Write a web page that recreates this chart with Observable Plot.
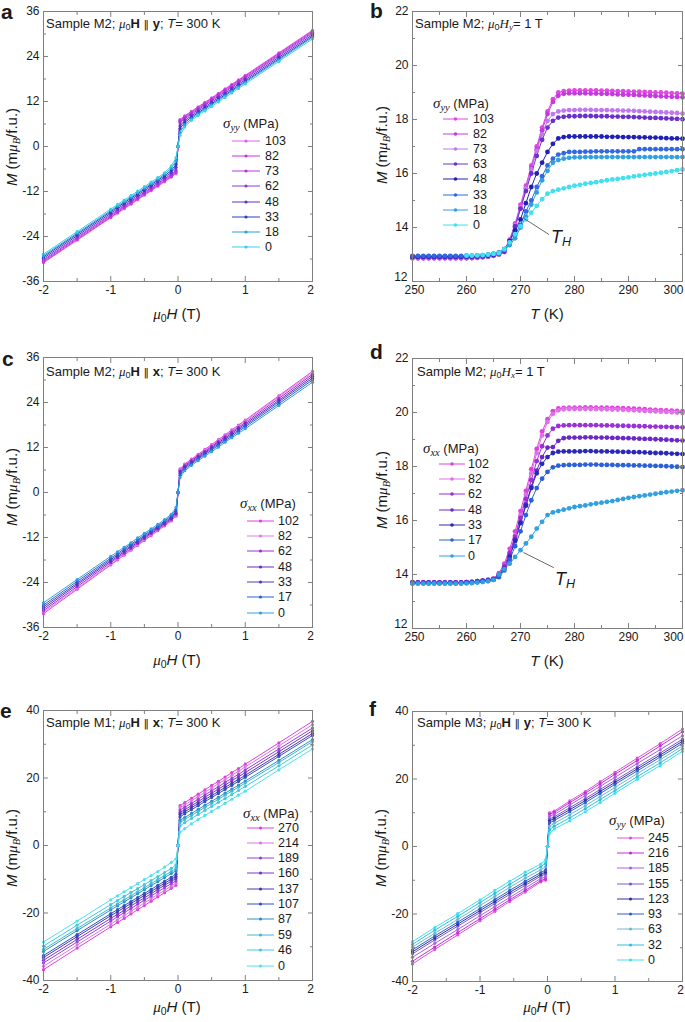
<!DOCTYPE html>
<html><head><meta charset="utf-8">
<script src="https://cdn.jsdelivr.net/npm/d3@7"></script>
<script src="https://cdn.jsdelivr.net/npm/@observablehq/plot@0.6"></script>
<style>
body{margin:0;background:#fff;}
#fig{position:relative;width:685px;height:1022px;overflow:hidden;background:#fff;font-family:"Liberation Sans",Arial,sans-serif;color:#1a1a1a;}
.t{position:absolute;white-space:nowrap;line-height:16px;font-size:12px;}
.m{font-family:"Liberation Serif","DejaVu Serif",serif;font-style:italic;}
.par{font-family:"DejaVu Sans",sans-serif;font-weight:normal;font-size:11px;}
sub{font-size:70%;vertical-align:-0.25em;line-height:0;}
.lt{position:absolute;font-weight:bold;font-size:21px;line-height:20px;}
</style>
</head><body><div id="fig"></div>
<script>
// ---------- field-sweep grids ----------
const Hgrid = [-2,-1.5,-1,-0.9,-0.8,-0.7,-0.6,-0.5,-0.4,-0.3,-0.2,-0.1,-0.03,0,0.03,0.1,0.2,0.3,0.4,0.5,0.6,0.7,0.8,0.9,1,1.5,2];
const HgridF = [-2,-1.67,-1.33,-1,-0.78,-0.56,-0.33,-0.1,-0.03,0,0.03,0.1,0.33,0.56,0.78,1,1.33,1.67,2];
const Tgrid = [250,251,252,253,254,255,256,257,258,259,260,261,262,263,264,265,266,267,268,269,270,271,272,273,274,275,276,277,278,279,280,281,282,283,284,285,286,287,288,289,290,291,292,293,294,295,296,297,298,299,300];

// ---------- panel a ----------
const aStress = ["103","82","73","62","48","33","18","0"];
const aColors = ["#e060e8","#d030e0","#b838e0","#9038d8","#6030c8","#2a40c8","#28a0d8","#38d0e8"];
const aM103 = [-31.0,-25.0,-19.0,-17.8,-16.6,-15.4,-14.2,-13.0,-11.8,-10.6,-9.4,-8.2,-7.2,0,7.2,8.2,9.4,10.6,11.8,13.0,14.2,15.4,16.6,17.8,19.0,25.0,31.0];
const aM82 = [-30.8,-24.8,-18.8,-17.6,-16.4,-15.2,-14.0,-12.8,-11.6,-10.4,-9.2,-8.0,-7.0,0,7.0,8.0,9.2,10.4,11.6,12.8,14.0,15.2,16.4,17.6,18.8,24.8,30.8];
const aM73 = [-30.5,-24.5,-18.5,-17.3,-16.1,-14.9,-13.7,-12.5,-11.3,-10.1,-8.9,-7.7,-6.7,0,6.7,7.7,8.9,10.1,11.3,12.5,13.7,14.9,16.1,17.3,18.5,24.5,30.5];
const aM62 = [-30.2,-24.2,-18.2,-17.0,-15.8,-14.6,-13.4,-12.2,-11.0,-9.8,-8.6,-7.4,-6.3,0,6.3,7.4,8.6,9.8,11.0,12.2,13.4,14.6,15.8,17.0,18.2,24.2,30.2];
const aM48 = [-29.8,-23.8,-17.8,-16.6,-15.4,-14.2,-13.0,-11.8,-10.6,-9.4,-8.2,-6.9,-5.5,0,5.5,6.9,8.2,9.4,10.6,11.8,13.0,14.2,15.4,16.6,17.8,23.8,29.8];
const aM33 = [-29.4,-23.4,-17.4,-16.2,-15.0,-13.8,-12.6,-11.4,-10.2,-9.0,-7.8,-6.4,-4.8,0,4.8,6.4,7.8,9.0,10.2,11.4,12.6,13.8,15.0,16.2,17.4,23.4,29.4];
const aM18 = [-29.1,-23.1,-17.1,-15.9,-14.7,-13.5,-12.3,-11.1,-9.9,-8.7,-7.4,-5.8,-3.8,0,3.8,5.8,7.4,8.7,9.9,11.1,12.3,13.5,14.7,15.9,17.1,23.1,29.1];
const aM0 = [-28.7,-22.7,-16.7,-15.5,-14.3,-13.1,-11.9,-10.7,-9.5,-8.3,-7.0,-5.2,-3.0,0,3.0,5.2,7.0,8.3,9.5,10.7,11.9,13.1,14.3,15.5,16.7,22.7,28.7];

// ---------- panel b ----------
const bStress = ["103","82","73","63","48","33","18","0"];
const bColors = ["#e048e0","#c438e0","#c078ec","#6a30cc","#2020b8","#3068e0","#30a0e0","#40e0f0"];
const bM103 = [12.87,12.87,12.87,12.87,12.87,12.87,12.87,12.87,12.87,12.87,12.87,12.87,12.88,12.9,12.92,12.95,13.0,13.15,13.55,14.15,14.85,15.55,16.3,17.0,17.7,18.3,18.75,19.0,19.05,19.07,19.08,19.08,19.08,19.08,19.08,19.07,19.07,19.06,19.05,19.05,19.04,19.03,19.03,19.02,19.01,19.0,19.0,18.99,18.98,18.97,18.96];
const bM82 = [12.86,12.86,12.86,12.86,12.86,12.86,12.86,12.86,12.86,12.86,12.86,12.87,12.88,12.9,12.92,12.95,13.0,13.1,13.45,14.0,14.7,15.45,16.2,16.9,17.6,18.2,18.65,18.88,18.95,18.97,18.97,18.97,18.97,18.96,18.96,18.95,18.95,18.94,18.93,18.92,18.92,18.91,18.9,18.89,18.88,18.87,18.86,18.85,18.84,18.83,18.82];
const bM73 = [12.88,12.88,12.88,12.88,12.88,12.88,12.88,12.88,12.88,12.88,12.88,12.88,12.89,12.9,12.93,12.96,13.0,13.1,13.5,14.1,14.75,15.45,16.15,16.85,17.45,17.95,18.2,18.3,18.33,18.35,18.35,18.36,18.36,18.36,18.35,18.35,18.35,18.34,18.34,18.33,18.33,18.32,18.31,18.3,18.29,18.28,18.27,18.26,18.25,18.24,18.22];
const bM63 = [12.9,12.9,12.9,12.9,12.9,12.9,12.9,12.9,12.9,12.9,12.9,12.9,12.91,12.92,12.94,12.97,13.02,13.1,13.5,14.05,14.7,15.35,16.0,16.65,17.25,17.7,17.95,18.07,18.1,18.12,18.12,18.13,18.13,18.13,18.12,18.12,18.12,18.11,18.11,18.1,18.1,18.09,18.08,18.07,18.06,18.06,18.05,18.04,18.03,18.02,18.01];
const bM48 = [12.93,12.93,12.93,12.93,12.93,12.93,12.93,12.93,12.93,12.93,12.93,12.93,12.94,12.95,12.97,13.0,13.05,13.2,13.5,13.9,14.3,14.9,15.5,16.0,16.4,16.8,17.1,17.3,17.35,17.37,17.37,17.37,17.37,17.37,17.37,17.37,17.36,17.36,17.36,17.35,17.35,17.35,17.34,17.34,17.33,17.33,17.32,17.31,17.3,17.3,17.29];
const bM33 = [12.95,12.95,12.95,12.95,12.95,12.95,12.95,12.95,12.95,12.95,12.95,12.95,12.96,12.97,12.99,13.02,13.07,13.2,13.4,13.7,14.1,14.6,15.0,15.5,15.9,16.3,16.55,16.7,16.75,16.8,16.8,16.8,16.81,16.81,16.82,16.82,16.82,16.82,16.82,16.82,16.82,16.82,16.9,16.9,16.9,16.9,16.9,16.9,16.9,16.9,16.9];
const bM18 = [null,null,null,null,null,null,null,null,null,null,12.96,12.96,12.97,12.98,13.0,13.03,13.08,13.18,13.35,13.6,14.0,14.4,14.85,15.3,15.75,16.1,16.4,16.5,16.55,16.58,16.6,16.6,16.61,16.61,16.61,16.61,16.61,16.61,16.61,16.61,16.61,16.61,16.61,16.61,16.61,16.61,16.61,16.61,16.61,16.61,16.61];
const bM0 = [null,null,null,null,null,null,null,null,null,null,12.96,12.96,12.97,12.98,13.0,13.02,13.05,13.2,13.45,13.75,14.05,14.3,14.55,14.8,15.05,15.25,15.35,15.4,15.45,15.5,15.55,15.58,15.62,15.65,15.68,15.72,15.75,15.78,15.8,15.83,15.86,15.89,15.92,15.95,15.98,16.0,16.03,16.06,16.09,16.12,16.15];
const bTH = [{x: 270.6, y: 14.34}, {x: 275.2, y: 13.75}];

// ---------- panel c ----------
const cStress = ["102","82","62","48","33","17","0"];
const cColors = ["#e040e0","#e07ae8","#9a30d8","#6a28c8","#4a40b8","#2a60d8","#30a0e0"];
const cM102 = [-32.3,-25.8,-19.3,-18.0,-16.7,-15.4,-14.1,-12.8,-11.5,-10.2,-8.9,-7.6,-6.3,0,6.3,7.6,8.9,10.2,11.5,12.8,14.1,15.4,16.7,18.0,19.3,25.8,32.3];
const cM82 = [-31.9,-25.5,-19.1,-17.8,-16.5,-15.2,-13.9,-12.6,-11.3,-10.0,-8.7,-7.4,-6.1,0,6.1,7.4,8.7,10.0,11.3,12.6,13.9,15.2,16.5,17.8,19.1,25.5,31.9];
const cM62 = [-31.5,-25.1,-18.7,-17.4,-16.2,-14.9,-13.6,-12.3,-11.0,-9.8,-8.5,-7.2,-5.8,0,5.8,7.2,8.5,9.8,11.0,12.3,13.6,14.9,16.2,17.4,18.7,25.1,31.5];
const cM48 = [-31.0,-24.6,-18.3,-17.1,-15.8,-14.5,-13.3,-12.0,-10.7,-9.5,-8.2,-6.9,-5.5,0,5.5,6.9,8.2,9.5,10.7,12.0,13.3,14.5,15.8,17.1,18.3,24.6,31.0];
const cM33 = [-30.5,-24.2,-17.9,-16.7,-15.4,-14.2,-12.9,-11.7,-10.4,-9.2,-7.9,-6.6,-5.1,0,5.1,6.6,7.9,9.2,10.4,11.7,12.9,14.2,15.4,16.7,17.9,24.2,30.5];
const cM17 = [-30.0,-23.7,-17.5,-16.3,-15.0,-13.8,-12.6,-11.3,-10.1,-8.9,-7.6,-6.2,-4.6,0,4.6,6.2,7.6,8.9,10.1,11.3,12.6,13.8,15.0,16.3,17.5,23.7,30.0];
const cM0 = [-29.4,-23.2,-17.0,-15.8,-14.6,-13.4,-12.1,-10.9,-9.7,-8.5,-7.2,-5.8,-4.0,0,4.0,5.8,7.2,8.5,9.7,10.9,12.1,13.4,14.6,15.8,17.0,23.2,29.4];

// ---------- panel d ----------
const dStress = ["102","82","62","48","33","17","0"];
const dColors = ["#e040e0","#e070e8","#9a30d8","#6a28c8","#2a28b8","#2a60d8","#30a0e0"];
const dM102 = [13.7,13.7,13.7,13.7,13.7,13.7,13.7,13.7,13.7,13.7,13.72,13.73,13.75,13.77,13.8,13.85,14.05,14.4,14.95,15.6,16.35,17.1,17.9,18.65,19.3,19.75,20.05,20.15,20.17,20.18,20.18,20.18,20.19,20.19,20.18,20.18,20.18,20.17,20.17,20.16,20.15,20.14,20.13,20.12,20.11,20.1,20.09,20.08,20.07,20.06,20.05];
const dM82 = [13.7,13.7,13.7,13.7,13.7,13.7,13.7,13.7,13.7,13.7,13.72,13.73,13.75,13.77,13.8,13.84,14.0,14.3,14.8,15.45,16.2,16.95,17.75,18.5,19.15,19.65,19.95,20.08,20.12,20.13,20.13,20.13,20.13,20.13,20.13,20.12,20.12,20.11,20.11,20.1,20.09,20.08,20.07,20.06,20.05,20.04,20.03,20.02,20.01,20.0,19.98];
const dM62 = [13.71,13.71,13.71,13.71,13.71,13.71,13.71,13.71,13.71,13.71,13.72,13.73,13.75,13.77,13.8,13.84,14.0,14.3,14.8,15.4,16.1,16.8,17.5,18.2,18.75,19.15,19.4,19.5,19.52,19.53,19.53,19.53,19.53,19.53,19.53,19.52,19.52,19.52,19.51,19.51,19.5,19.5,19.49,19.49,19.48,19.48,19.47,19.47,19.46,19.46,19.45];
const dM48 = [13.7,13.7,13.7,13.7,13.7,13.7,13.7,13.7,13.7,13.7,13.71,13.72,13.74,13.76,13.79,13.83,13.95,14.25,14.7,15.3,15.95,16.6,17.25,17.85,18.35,18.7,18.72,18.95,19.05,19.07,19.07,19.07,19.08,19.08,19.07,19.07,19.07,19.06,19.06,19.05,19.05,19.04,19.03,19.02,19.02,19.01,19.0,18.99,18.98,18.97,18.96];
const dM33 = [13.69,13.69,13.69,13.69,13.69,13.69,13.69,13.69,13.69,13.69,13.7,13.71,13.73,13.75,13.78,13.82,13.95,14.2,14.65,15.25,15.9,16.55,17.2,17.75,18.1,18.35,18.5,18.55,18.56,18.56,18.56,18.56,18.57,18.57,18.56,18.56,18.56,18.55,18.55,18.54,18.54,18.53,18.53,18.52,18.51,18.5,18.5,18.49,18.48,18.47,18.46];
const dM17 = [13.68,13.68,13.68,13.68,13.68,13.68,13.68,13.68,13.68,13.68,13.69,13.7,13.72,13.74,13.77,13.8,13.9,14.15,14.55,15.05,15.6,16.2,16.75,17.2,17.55,17.8,17.97,18.03,18.05,18.06,18.06,18.06,18.07,18.07,18.07,18.06,18.06,18.06,18.05,18.05,18.05,18.04,18.04,18.03,18.03,18.02,18.02,18.01,18.0,17.99,17.98];
const dM0 = [13.66,13.66,13.66,13.66,13.66,13.66,13.66,13.66,13.66,13.66,13.67,13.68,13.7,13.72,13.75,13.8,14.0,14.2,14.4,14.65,14.9,15.15,15.4,15.7,15.95,16.2,16.3,16.35,16.4,16.45,16.5,16.53,16.56,16.6,16.63,16.66,16.69,16.72,16.76,16.8,16.84,16.87,16.9,16.93,16.96,16.99,17.02,17.05,17.07,17.1,17.12];
const dTH = [{x: 270.6, y: 14.81}, {x: 276.1, y: 14.26}];

// ---------- panel e ----------
const eStress = ["270","214","189","160","137","107","87","59","46","0"];
const eColors = ["#e040e0","#d878e0","#9a40d8","#7838c8","#4838a8","#3050c8","#3090c0","#40b8d0","#40c8e0","#50e0ee"];
const eM270 = [-36.8,-30.4,-24.1,-22.8,-21.6,-20.3,-19.0,-17.8,-16.5,-15.2,-14.0,-12.7,-11.8,0,11.8,12.7,14.0,15.2,16.5,17.8,19.0,20.3,21.6,22.8,24.1,30.4,36.8];
const eM214 = [-35.8,-29.5,-23.3,-22.0,-20.8,-19.5,-18.3,-17.0,-15.8,-14.5,-13.3,-12.0,-11.2,0,11.2,12.0,13.3,14.5,15.8,17.0,18.3,19.5,20.8,22.0,23.3,29.5,35.8];
const eM189 = [-34.8,-28.6,-22.4,-21.1,-19.9,-18.7,-17.4,-16.2,-15.0,-13.7,-12.5,-11.3,-10.5,0,10.5,11.3,12.5,13.7,15.0,16.2,17.4,18.7,19.9,21.1,22.4,28.6,34.8];
const eM160 = [-34.0,-27.8,-21.6,-20.4,-19.2,-17.9,-16.7,-15.5,-14.3,-13.0,-11.8,-10.6,-9.8,0,9.8,10.6,11.8,13.0,14.3,15.5,16.7,17.9,19.2,20.4,21.6,27.8,34.0];
const eM137 = [-33.2,-27.0,-20.8,-19.6,-18.4,-17.2,-16.0,-14.8,-13.6,-12.4,-11.2,-10.0,-9.2,0,9.2,10.0,11.2,12.4,13.6,14.8,16.0,17.2,18.4,19.6,20.8,27.0,33.2];
const eM107 = [-32.6,-26.4,-20.2,-19.0,-17.8,-16.6,-15.4,-14.2,-13.0,-11.8,-10.6,-9.4,-8.5,0,8.5,9.4,10.6,11.8,13.0,14.2,15.4,16.6,17.8,19.0,20.2,26.4,32.6];
const eM87 = [-31.4,-25.2,-19.1,-17.9,-16.7,-15.5,-14.3,-13.1,-11.9,-10.7,-9.5,-8.3,-7.5,0,7.5,8.3,9.5,10.7,11.9,13.1,14.3,15.5,16.7,17.9,19.1,25.2,31.4];
const eM59 = [-30.8,-24.6,-18.5,-17.3,-16.1,-14.9,-13.7,-12.5,-11.3,-10.1,-8.9,-7.7,-6.8,0,6.8,7.7,8.9,10.1,11.3,12.5,13.7,14.9,16.1,17.3,18.5,24.6,30.8];
const eM46 = [-29.8,-23.6,-17.5,-16.3,-15.1,-13.9,-12.8,-11.6,-10.4,-9.2,-8.0,-6.8,-5.8,0,5.8,6.8,8.0,9.2,10.4,11.6,12.8,13.9,15.1,16.3,17.5,23.6,29.8];
const eM0 = [-28.6,-22.4,-16.1,-14.9,-13.7,-12.5,-11.3,-10.1,-8.9,-7.7,-6.4,-5.0,-4.0,0,4.0,5.0,6.4,7.7,8.9,10.1,11.3,12.5,13.7,14.9,16.1,22.4,28.6];

// ---------- panel f ----------
const fStress = ["245","216","185","155","123","93","63","32","0"];
const fColors = ["#e050e0","#c030d0","#b060e0","#7a5ad0","#3030a0","#3060d0","#70b8d0","#30c0e0","#40e0f0"];
const fM245 = [-34.8,-30.5,-26.2,-22.0,-19.2,-16.3,-13.5,-10.5,-10.0,0,10.0,10.5,13.5,16.3,19.2,22.0,26.2,30.5,34.8];
const fM216 = [-34.0,-29.8,-25.5,-21.4,-18.6,-15.8,-13.0,-10.1,-9.6,0,9.6,10.1,13.0,15.8,18.6,21.4,25.5,29.8,34.0];
const fM185 = [-32.8,-28.7,-24.6,-20.5,-17.8,-15.1,-12.3,-9.5,-9.0,0,9.0,9.5,12.3,15.1,17.8,20.5,24.6,28.7,32.8];
const fM155 = [-31.8,-27.7,-23.6,-19.6,-16.9,-14.2,-11.5,-8.8,-8.2,0,8.2,8.8,11.5,14.2,16.9,19.6,23.6,27.7,31.8];
const fM123 = [-31.2,-27.1,-23.0,-19.0,-16.3,-13.6,-10.9,-8.3,-7.6,0,7.6,8.3,10.9,13.6,16.3,19.0,23.0,27.1,31.2];
const fM93 = [-30.6,-26.5,-22.4,-18.4,-15.7,-13.0,-10.3,-7.7,-7.0,0,7.0,7.7,10.3,13.0,15.7,18.4,22.4,26.5,30.6];
const fM63 = [-29.8,-25.7,-21.6,-17.5,-14.8,-12.1,-9.4,-6.9,-6.0,0,6.0,6.9,9.4,12.1,14.8,17.5,21.6,25.7,29.8];
const fM32 = [-29.0,-24.8,-20.7,-16.6,-13.9,-11.2,-8.5,-6.0,-5.0,0,5.0,6.0,8.5,11.2,13.9,16.6,20.7,24.8,29.0];
const fM0 = [-28.2,-24.0,-19.9,-15.8,-13.0,-10.3,-7.6,-5.2,-4.0,0,4.0,5.2,7.6,10.3,13.0,15.8,19.9,24.0,28.2];

// ---------- ticks ----------
const hTicks = [-2,-1,0,1,2], hMinor = [-1.5,-0.5,0.5,1.5];
const tTicks = [250,260,270,280,290,300], tMinor = [255,265,275,285,295];
const m36Ticks = [-36,-24,-12,0,12,24,36], m36Minor = [-30,-18,-6,6,18,30];
const m22Ticks = [12,14,16,18,20,22], m22Minor = [13,15,17,19,21];
const m40Ticks = [-40,-20,0,20,40], m40Minor = [-30,-10,10,30];

const fig = document.getElementById("fig");
const AX = "#808080";
const fmt = d => String(d);

function axes(xt, xm, yt, ym) {
  const o = {stroke: AX, fill: "none", label: null, tickFormat: () => ""};
  const lab = {anchor: "bottom", tickSize: 0, tickPadding: 4, tickFormat: fmt, label: null, fill: "#1a1a1a"};
  const ylab = {anchor: "left", tickSize: 0, tickPadding: 4, tickFormat: fmt, label: null, fill: "#1a1a1a"};
  const inner = xt.slice(0, -1), last = xt.slice(-1);
  const tempPanel = xt[0] > 100;
  const yMarks = tempPanel
    ? [Plot.axisY(yt.slice(1), ylab), Plot.axisY(yt.slice(0, 1), {...ylab, dy: -4, dx: -1})]
    : [Plot.axisY(yt, ylab)];
  const xMarks = tempPanel
    ? [Plot.axisX(inner.slice(0, 1), {...lab, dx: 2}), Plot.axisX(inner.slice(1), lab)]
    : [Plot.axisX(inner, lab)];
  return [
    Plot.axisX(xt, {...o, anchor: "bottom", tickSize: -5}),
    Plot.axisX(xt, {...o, anchor: "top", tickSize: -5}),
    Plot.axisX(xm, {...o, anchor: "bottom", tickSize: -3}),
    Plot.axisX(xm, {...o, anchor: "top", tickSize: -3}),
    Plot.axisY(yt, {...o, anchor: "left", tickSize: -5}),
    Plot.axisY(yt, {...o, anchor: "right", tickSize: -5}),
    Plot.axisY(ym, {...o, anchor: "left", tickSize: -3}),
    Plot.axisY(ym, {...o, anchor: "right", tickSize: -3}),
    ...xMarks,
    Plot.axisX(last, {...lab, dx: tempPanel ? -9 : -2}),
    ...yMarks
  ];
}

function panel(cfg) {
  const rows = [];
  cfg.series.forEach((vals, i) => vals.forEach((v, j) => {
    if (v != null) rows.push({x: cfg.grid[j], y: v, s: cfg.stress[i]});
  }));
  const p = Plot.plot({
    width: cfg.width, height: 321,
    marginTop: 11, marginBottom: 40, marginLeft: cfg.ml, marginRight: cfg.mr,
    x: {domain: cfg.xd}, y: {domain: cfg.yd},
    color: {domain: cfg.stress, range: cfg.colors},
    style: {fontFamily: '"Liberation Sans", Arial, sans-serif', fontSize: "12px", color: "#1a1a1a", background: "transparent", overflow: "visible"},
    marks: [
      Plot.line(rows, {x: "x", y: "y", z: "s", stroke: "s", strokeWidth: 1}),
      Plot.dot(rows, {x: "x", y: "y", fill: "s", r: cfg.r}),
      ...(cfg.th ? [Plot.line(cfg.th, {x: "x", y: "y", stroke: "#444", strokeWidth: 0.8})] : []),
      Plot.frame({stroke: AX}),
      ...axes(cfg.xt, cfg.xm, cfg.yt, cfg.ym)
    ]
  });
  p.style.position = "absolute";
  p.style.left = cfg.left + "px";
  p.style.top = cfg.top + "px";
  fig.appendChild(p);
}

function put(html, x, y, css) {
  const d = document.createElement("div");
  d.className = "t";
  d.innerHTML = html;
  d.style.left = x + "px";
  d.style.top = (y - 8) + "px";
  if (css) Object.assign(d.style, css);
  fig.appendChild(d);
  return d;
}
function letter(ch, x, baseline) {
  const d = document.createElement("div");
  d.className = "lt";
  d.textContent = ch;
  d.style.left = x + "px";
  d.style.top = (baseline - 16.5) + "px";
  fig.appendChild(d);
}
function xlabel(html, cx, cy) { put(html, cx, cy, {fontSize: "15px", lineHeight: "16px", transform: "translateX(-50%)"}); }
function ylabel(cx, cy) {
  put('<i>M</i> (m<span class="m">μ</span><sub class="m">B</sub>/f.u.)', cx, cy + 8, {fontSize: "15px", lineHeight: "16px", transform: "translate(-50%,-50%) rotate(-90deg)"});
}
function legend(header, hx, hy, x1, x2, xl, ys, labels, colors, r) {
  put(header, hx, hy, {fontSize: "13px"});
  labels.forEach((lab, i) => {
    const w = x2 - x1;
    const svg = `<svg width="${w}" height="16" style="position:absolute;left:${x1}px;top:${ys[i]-8}px"><line x1="0" y1="8" x2="${w}" y2="8" stroke="${colors[i]}" stroke-width="1"/><circle cx="${w/2}" cy="8" r="${r}" fill="${colors[i]}"/></svg>`;
    fig.insertAdjacentHTML("beforeend", svg);
    put(lab, xl, ys[i], {fontSize: "12.5px"});
  });
}

const mu0 = '<span class="m">μ</span><sub>0</sub>';
const par = '<span class="par">‖</span>';
const sig = s => `<span class="m" style="font-size:15px">σ<sub>${s}</sub></span> (MPa)`;
const muH = mu0 + '<i>H</i> (T)';

// a
panel({left: 0, top: 0, width: 340, ml: 43, mr: 28, xd: [-2, 2], yd: [-36, 36], xt: hTicks, xm: hMinor, yt: m36Ticks, ym: m36Minor,
  grid: Hgrid, series: [aM103, aM82, aM73, aM62, aM48, aM33, aM18, aM0], stress: aStress, colors: aColors, r: 1.6});
// b
panel({left: 340, top: 0, width: 345, ml: 72, mr: 3, xd: [250, 300], yd: [12, 22], xt: tTicks, xm: tMinor, yt: m22Ticks, ym: m22Minor,
  grid: Tgrid, series: [bM103, bM82, bM73, bM63, bM48, bM33, bM18, bM0], stress: bStress, colors: bColors, r: 2.4, th: bTH});
// c
panel({left: 0, top: 346, width: 340, ml: 43, mr: 28, xd: [-2, 2], yd: [-36, 36], xt: hTicks, xm: hMinor, yt: m36Ticks, ym: m36Minor,
  grid: Hgrid, series: [cM102, cM82, cM62, cM48, cM33, cM17, cM0], stress: cStress, colors: cColors, r: 1.6});
// d
panel({left: 340, top: 347, width: 345, ml: 72, mr: 3, xd: [250, 300], yd: [12, 22], xt: tTicks, xm: tMinor, yt: m22Ticks, ym: m22Minor,
  grid: Tgrid, series: [dM102, dM82, dM62, dM48, dM33, dM17, dM0], stress: dStress, colors: dColors, r: 2.4, th: dTH});
// e
panel({left: 0, top: 699, width: 340, ml: 43, mr: 28, xd: [-2, 2], yd: [-40, 40], xt: hTicks, xm: hMinor, yt: m40Ticks, ym: m40Minor,
  grid: Hgrid, series: [eM270, eM214, eM189, eM160, eM137, eM107, eM87, eM59, eM46, eM0], stress: eStress, colors: eColors, r: 1.6});
// f
panel({left: 340, top: 700, width: 345, ml: 72, mr: 3, xd: [-2, 2], yd: [-40, 40], xt: hTicks, xm: hMinor, yt: m40Ticks, ym: m40Minor,
  grid: HgridF, series: [fM245, fM216, fM185, fM155, fM123, fM93, fM63, fM32, fM0], stress: fStress, colors: fColors, r: 1.6});

// letters
letter("a", 1, 18); letter("b", 370, 17); letter("c", 2, 365);
letter("d", 370, 358); letter("e", 0, 717); letter("f", 369, 715);

// titles
const tcss = {fontSize: "13px"};
put(`Sample M2; ${mu0}<b>H</b> ${par} <b>y</b>; <i>T</i>= 300 K`, 46, 24, tcss);
put(`Sample M2; ${mu0}<span class="m">H<sub>y</sub></span>= 1 T`, 415, 24, tcss);
put(`Sample M2; ${mu0}<b>H</b> ${par} <b>x</b>; <i>T</i>= 300 K`, 46, 372, tcss);
put(`Sample M2; ${mu0}<span class="m">H<sub>x</sub></span>= 1 T`, 417, 372, tcss);
put(`Sample M1; ${mu0}<b>H</b> ${par} <b>x</b>; <i>T</i>= 300 K`, 46, 723, tcss);
put(`Sample M3; ${mu0}<b>H</b> ${par} <b>y</b>; <i>T</i>= 300 K`, 417, 723, tcss);

// axis labels
xlabel(muH, 177, 314); xlabel('<i>T</i> (K)', 547, 314);
xlabel(muH, 177, 660); xlabel('<i>T</i> (K)', 547, 661);
xlabel(muH, 177, 1007); xlabel(muH, 547, 1007);
ylabel(12, 147); ylabel(382, 145); ylabel(12, 487); ylabel(382, 490); ylabel(12, 848); ylabel(381, 848);

// legends
legend(sig("yy"), 223, 123, 232, 260, 265, [141,156,171,186,202,217,232,247], aStress, aColors, 1.6);
legend(sig("yy"), 433, 103, 443, 468, 473, [119,134,149,164,179,195,210,225], bStress, bColors, 1.8);
legend(sig("xx"), 240, 503, 247, 274, 278, [521,536,551,567,582,597,613], cStress, cColors, 1.6);
legend(sig("xx"), 423, 448, 439, 465, 468, [464,479,494,510,525,540,556], dStress, dColors, 1.8);
legend(sig("xx"), 243, 813, 247, 274, 278, [828,843,858,873,889,904,919,935,950,966], eStress, eColors, 1.6);
legend(sig("yy"), 609, 820, 617, 644, 648, [838,853,868,884,899,914,929,945,960], fStress, fColors, 1.6);

// T_H labels
put('<i>T</i><sub><i>H</i></sub>', 551, 235, {fontSize: "18px", lineHeight: "20px"});
put('<i>T</i><sub><i>H</i></sub>', 555, 577, {fontSize: "18px", lineHeight: "20px"});
</script>
</body></html>
